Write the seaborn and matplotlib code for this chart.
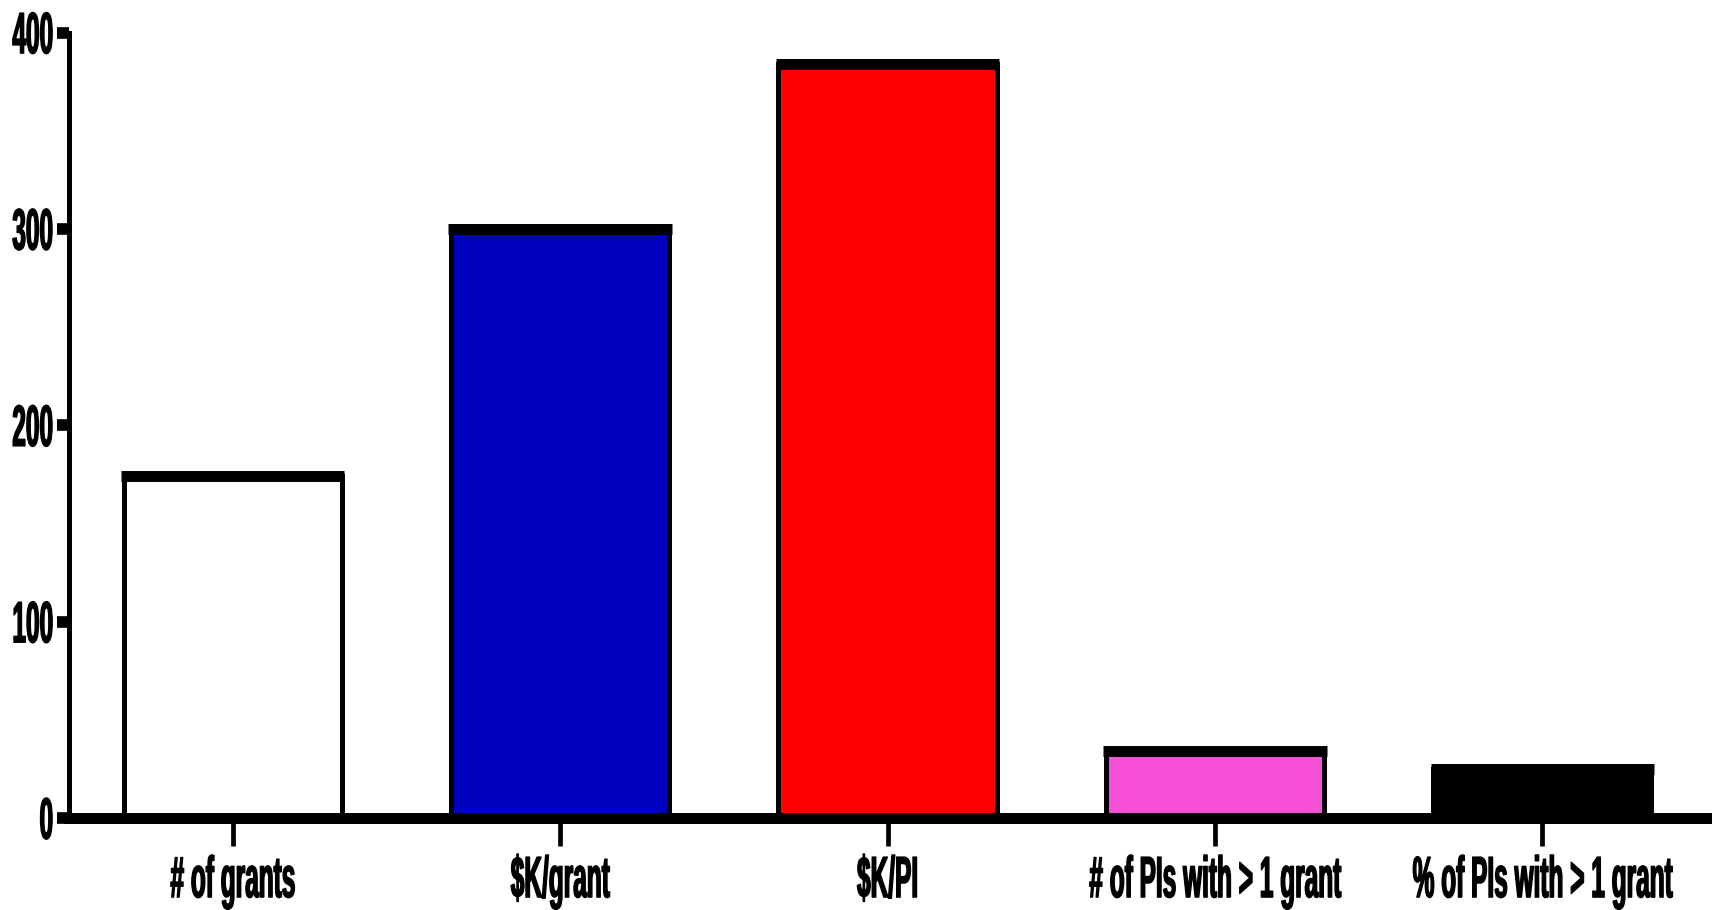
import numpy as np
import matplotlib
matplotlib.use("Agg")
import matplotlib.pyplot as plt
import matplotlib.patheffects as pe
from matplotlib.transforms import Affine2D
import seaborn as sns

# =========================
# DATA
# =========================
categories = ["# of grants", "$K/grant", "$K/PI",
              "# of PIs with > 1 grant", "% of PIs with > 1 grant"]
values = [174, 300, 384, 34, 25]
colors = ["#FFFFFF", "#0000C0", "#FF0000", "#F550D6", "#000000"]
yticks = [0, 100, 200, 300, 400]


# condensed look: stretch glyphs vertically, text stays a Text object
class Stretch(pe.AbstractPathEffect):
    def __init__(self, sy, about="baseline", stroke=1.0):
        super().__init__()
        self.sy = sy
        self.about = about
        self.stroke = stroke

    def draw_path(self, renderer, gc, tpath, affine, rgbFace=None):
        cy = 0.0
        if self.about == "center":
            ext = tpath.get_extents()
            cy = (ext.y0 + ext.y1) / 2
        st = Affine2D().translate(0, -cy).scale(1, self.sy).translate(0, cy)
        gc0 = renderer.new_gc()
        gc0.copy_properties(gc)
        gc0.set_linewidth(self.stroke)
        gc0.set_foreground(rgbFace)
        gc0.set_joinstyle("round")
        renderer.draw_path(gc0, tpath, st + affine, rgbFace)
        gc0.restore()


# =========================
# STYLE
# =========================
sns.set_style("ticks")
plt.rcParams["font.family"] = ["Liberation Sans", "DejaVu Sans"]
plt.rcParams["font.weight"] = "bold"
plt.rcParams["text.color"] = "black"

W, H = 1714, 910
fig = plt.figure(figsize=(W / 100, H / 100), dpi=100)
ax = fig.add_axes([69 / W, 92 / H, 1637 / W, 785.5 / H])

# =========================
# BARS
# =========================
sns.barplot(x=categories, y=values, hue=categories, palette=colors,
            legend=False, width=0.667, edgecolor="black", linewidth=3.6,
            saturation=1, ax=ax)

# thick mean line on top of each bar
pos = np.arange(len(categories))
ax.hlines(values, pos - 0.341, pos + 0.341, color="black",
          linewidth=7.9, capstyle="butt", zorder=3)

ax.set_xlim(-0.5, len(categories) - 0.5)
ax.set_ylim(0, 400)
ax.set_yticks(yticks)
ax.set_xlabel("")
ax.set_ylabel("")

sns.despine(ax=ax)
ax.spines["left"].set_linewidth(3.6)
ax.spines["bottom"].set_linewidth(7.9)
ax.spines["left"].set_color("black")
ax.spines["bottom"].set_color("black")

ax.tick_params(axis="y", length=8.4, width=8.4, pad=3, labelsize=17.6,
               color="black", labelcolor="black")
ax.tick_params(axis="x", length=20, width=3.4, pad=24, labelsize=17.6,
               color="black", labelcolor="black")

for lab in ax.get_yticklabels():
    lab.set_fontweight("bold")
    lab.set_path_effects([Stretch(2.38, about="center")])
for lab in ax.get_xticklabels():
    lab.set_fontweight("bold")
    lab.set_path_effects([Stretch(2.38, about="baseline")])

plt.savefig("out.png", dpi=100)
